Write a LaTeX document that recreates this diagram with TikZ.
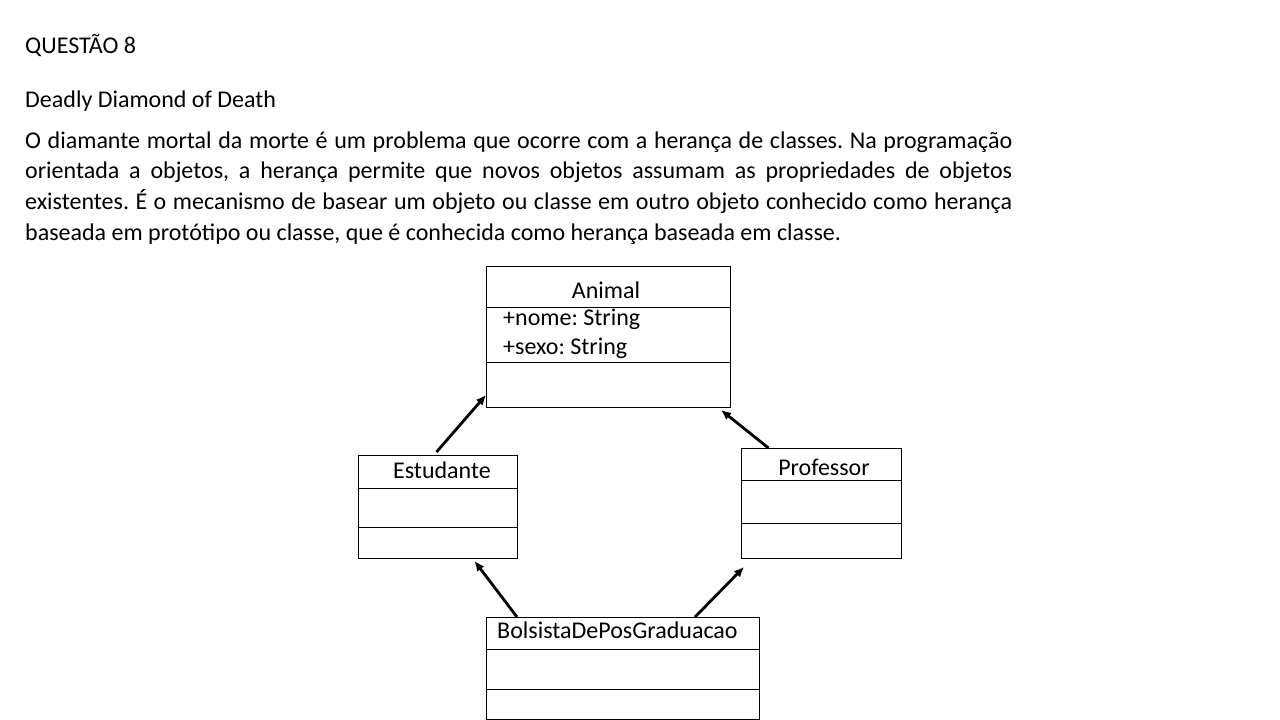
\documentclass[tikz,border=0pt]{standalone}
\usepackage{fontspec}
\setmainfont{Carlito}
\usetikzlibrary{arrows.meta}
\frenchspacing
\begin{document}
\begin{tikzpicture}[x=1pt,y=-1pt,
  box/.style={draw=black,line width=1pt,inner sep=0pt,anchor=north west},
  txt/.style={inner sep=0pt,font=\fontsize{24}{30}\selectfont},
  arr/.style={line width=2.8pt,-{Latex[length=10pt,width=9pt]}}]
\useasboundingbox[fill=white] (0,0) rectangle (1280,720);
% header text
\node[txt,anchor=base west] (q) at (25,53) {QUESTÃO 8};
\node[txt,anchor=base west] (d) at (25,107) {Deadly Diamond of Death};
\node[txt,anchor=base west] (p1) at (25,148) {\makebox[987pt][s]{O diamante mortal da morte é um problema que ocorre com a herança de classes. Na programação}};
\node[txt,anchor=base west] (p2) at (25,178) {\makebox[987pt][s]{orientada a objetos, a herança permite que novos objetos assumam as propriedades de objetos}};
\node[txt,anchor=base west] (p3) at (25,209) {\makebox[987pt][s]{existentes. É o mecanismo de basear um objeto ou classe em outro objeto conhecido como herança}};
\node[txt,anchor=base west] (p4) at (25,240) {baseada em protótipo ou classe, que é conhecida como herança baseada em classe.};
% boxes
\node[box,minimum width=244pt,minimum height=141pt] (animal) at (486,266) {};
\draw[line width=1pt] ([yshift=-41pt]animal.north west) -- ([yshift=-41pt]animal.north east);
\draw[line width=1pt] ([yshift=-96pt]animal.north west) -- ([yshift=-96pt]animal.north east);
\node[txt,anchor=base] (animalt) at (606,298) {Animal};
\node[txt,anchor=base west] (attr1) at (503,325) {+nome: String};
\node[txt,anchor=base west] (attr2) at (503,354) {+sexo: String};

\node[box,minimum width=159pt,minimum height=103pt] (est) at (358,455) {};
\draw[line width=1pt] ([yshift=-33pt]est.north west) -- ([yshift=-33pt]est.north east);
\draw[line width=1pt] ([yshift=-72pt]est.north west) -- ([yshift=-72pt]est.north east);
\node[txt,anchor=base] (estt) at (442,478) {Estudante};

\node[box,minimum width=160pt,minimum height=110pt] (prof) at (741,448) {};
\draw[line width=1pt] ([yshift=-32pt]prof.north west) -- ([yshift=-32pt]prof.north east);
\draw[line width=1pt] ([yshift=-75pt]prof.north west) -- ([yshift=-75pt]prof.north east);
\node[txt,anchor=base] (proft) at (824,475) {Professor};

\node[box,minimum width=273pt,minimum height=102pt] (bol) at (486,617) {};
\draw[line width=1pt] ([yshift=-32pt]bol.north west) -- ([yshift=-32pt]bol.north east);
\draw[line width=1pt] ([yshift=-72pt]bol.north west) -- ([yshift=-72pt]bol.north east);
\node[txt,anchor=base west] (bolt) at (497,638) {BolsistaDePosGraduacao};
% arrows
\draw[arr] ([xshift=-1.5pt,yshift=3pt]est.north) -- ([yshift=13pt]animal.south west);
\draw[arr] ([xshift=-53pt]prof.north) -- ([xshift=-10pt,yshift=-2pt]animal.south east);
\draw[arr] ([xshift=31pt]bol.north west) -- ([xshift=36.5pt,yshift=-2pt]est.south);
\draw[arr] ([xshift=209pt]bol.north west) -- ([xshift=3pt,yshift=-8pt]prof.south west);
\end{tikzpicture}
\end{document}
